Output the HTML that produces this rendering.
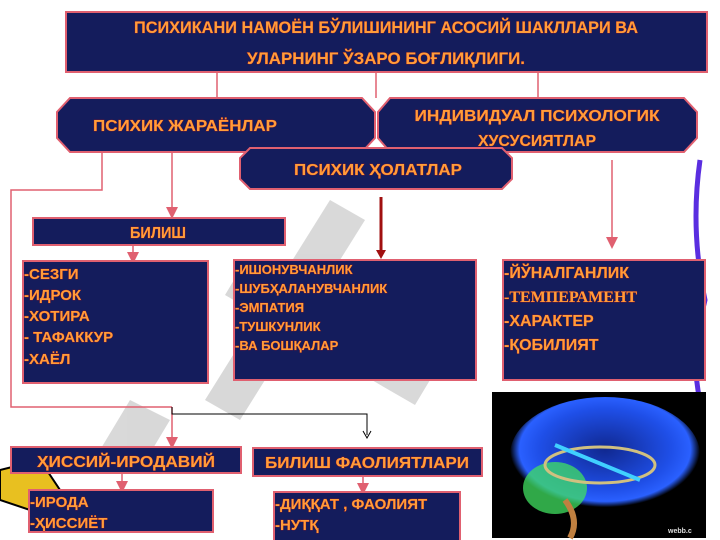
<!DOCTYPE html>
<html><head><meta charset="utf-8"><style>
html,body{margin:0;padding:0;background:#fff}
svg{display:block}
text{font-family:"Liberation Sans Narrow","Liberation Sans",sans-serif;font-weight:bold;fill:#ff9d3a;stroke:#b01818;stroke-width:0.6;paint-order:stroke}
.b{fill:#141c5c;stroke:#e06070;stroke-width:2}
.l{stroke:#e06070;stroke-width:1.5;fill:none}
</style></head><body>
<svg width="720" height="540" viewBox="0 0 720 540" xmlns="http://www.w3.org/2000/svg">
<defs>
<marker id="ar" markerWidth="8" markerHeight="8" refX="4" refY="4" orient="auto"><path d="M0,0 L8,4 L0,8 z" fill="#e06070"/></marker>
<radialGradient id="br" cx="0.5" cy="0.45" r="0.5"><stop offset="0" stop-color="#102890"/><stop offset="0.7" stop-color="#1f4fe8"/><stop offset="0.9" stop-color="#2a60ff"/><stop offset="1" stop-color="#000"/></radialGradient>
</defs>
<g fill="#cfcfcf" opacity="0.8">
<polygon points="330,200 365,220 240,420 205,400"/>
<polygon points="240,270 430,380 415,405 225,295"/>
<polygon points="130,400 170,420 140,470 100,450"/>
</g>
<path d="M700,160 Q690,230 705,300 Q690,360 700,400" stroke="#5a2ee0" stroke-width="5" fill="none"/>
<polygon points="0,470 40,460 60,490 30,510 0,500" fill="#e8c020" stroke="#000" stroke-width="2"/>
<line class="l" x1="217" y1="72" x2="217" y2="98"/>
<line class="l" x1="376" y1="72" x2="376" y2="98"/>
<line class="l" x1="538" y1="72" x2="538" y2="98"/>
<polyline class="l" points="102,152 102,190 11,190 11,407 172,407"/>
<line class="l" x1="172" y1="152" x2="172" y2="213" marker-end="url(#ar)"/>
<line class="l" x1="133" y1="245" x2="133" y2="258" marker-end="url(#ar)" stroke-width="3"/>
<line class="l" x1="612" y1="160" x2="612" y2="243" marker-end="url(#ar)"/>
<line x1="381" y1="197" x2="381" y2="250" stroke="#a01010" stroke-width="3"/>
<path d="M376,250 L386,250 L381,259 z" fill="#a01010"/>
<line class="l" x1="172" y1="407" x2="172" y2="443" marker-end="url(#ar)"/>
<polyline points="172,407 172,414 367,414 367,435" stroke="#000" stroke-width="1" fill="none"/>
<polyline points="363,431 367,438 371,431" stroke="#000" stroke-width="1" fill="none"/>
<line class="l" x1="122" y1="474" x2="122" y2="487" stroke-width="3" marker-end="url(#ar)"/>
<line class="l" x1="363" y1="476" x2="363" y2="489" stroke-width="3" marker-end="url(#ar)"/>
<rect class="b" x="66" y="12" width="641" height="60"/>
<text x="386" y="33" font-size="17" text-anchor="middle" textLength="504" lengthAdjust="spacingAndGlyphs">ПСИХИКАНИ НАМОЁН БЎЛИШИНИНГ АСОСИЙ ШАКЛЛАРИ ВА</text>
<text x="386" y="64" font-size="17" text-anchor="middle" textLength="278" lengthAdjust="spacingAndGlyphs">УЛАРНИНГ ЎЗАРО БОҒЛИҚЛИГИ.</text>
<polygon class="b" points="70,98 362,98 375,112 375,138 362,152 70,152 57,138 57,112"/>
<text x="185" y="131" font-size="16" text-anchor="middle" textLength="184" lengthAdjust="spacingAndGlyphs">ПСИХИК ЖАРАЁНЛАР</text>
<polygon class="b" points="390,98 684,98 697,112 697,138 684,152 390,152 378,138 378,112"/>
<text x="537" y="121" font-size="16" text-anchor="middle" textLength="245" lengthAdjust="spacingAndGlyphs">ИНДИВИДУАЛ ПСИХОЛОГИК</text>
<text x="537" y="146" font-size="16" text-anchor="middle" textLength="118" lengthAdjust="spacingAndGlyphs">ХУСУСИЯТЛАР</text>
<polygon class="b" points="250,148 502,148 512,158 512,179 502,189 250,189 240,179 240,158"/>
<text x="378" y="175" font-size="16" text-anchor="middle" textLength="168" lengthAdjust="spacingAndGlyphs">ПСИХИК ҲОЛАТЛАР</text>
<rect class="b" x="33" y="218" width="252" height="27"/>
<text x="158" y="238" font-size="16" text-anchor="middle" textLength="56" lengthAdjust="spacingAndGlyphs">БИЛИШ</text>
<rect class="b" x="23" y="261" width="185" height="122"/>
<g font-size="15"><text x="24" y="279">-СЕЗГИ</text><text x="24" y="300">-ИДРОК</text><text x="24" y="321">-ХОТИРА</text><text x="24" y="342">- ТАФАККУР</text><text x="24" y="364">-ХАЁЛ</text></g>
<rect class="b" x="234" y="260" width="242" height="120"/>
<g font-size="13"><text x="235" y="274">-ИШОНУВЧАНЛИК</text><text x="235" y="293">-ШУБҲАЛАНУВЧАНЛИК</text><text x="235" y="312">-ЭМПАТИЯ</text><text x="235" y="331">-ТУШКУНЛИК</text><text x="235" y="350">-ВА БОШҚАЛАР</text></g>
<rect class="b" x="503" y="260" width="202" height="120"/>
<g font-size="16"><text x="504" y="278">-ЙЎНАЛГАНЛИК</text><text x="504" y="302" style="font-family:'Liberation Serif',serif">-ТЕМПЕРАМЕНТ</text><text x="504" y="326">-ХАРАКТЕР</text><text x="504" y="350">-ҚОБИЛИЯТ</text></g>
<rect x="492" y="392" width="214" height="146" fill="#000"/>
<ellipse cx="605" cy="455" rx="95" ry="58" fill="url(#br)"/>
<ellipse cx="555" cy="488" rx="32" ry="26" fill="#40e060" opacity="0.75"/>
<ellipse cx="600" cy="465" rx="55" ry="18" fill="none" stroke="#d0c080" stroke-width="3"/>
<line x1="555" y1="445" x2="640" y2="480" stroke="#40d0ff" stroke-width="4"/>
<path d="M565,500 Q580,520 570,538" stroke="#c08040" stroke-width="6" fill="none"/>
<text x="668" y="533" font-size="7" style="fill:#ddd;stroke:none">webb.c</text>
<rect class="b" x="11" y="447" width="230" height="26"/>
<text x="126" y="467" font-size="16" text-anchor="middle" textLength="178" lengthAdjust="spacingAndGlyphs">ҲИССИЙ-ИРОДАВИЙ</text>
<rect class="b" x="253" y="448" width="229" height="28"/>
<text x="367" y="468" font-size="16" text-anchor="middle" textLength="204" lengthAdjust="spacingAndGlyphs">БИЛИШ ФАОЛИЯТЛАРИ</text>
<rect class="b" x="29" y="490" width="184" height="42"/>
<g font-size="15"><text x="30" y="507">-ИРОДА</text><text x="30" y="528">-ҲИССИЁТ</text></g>
<rect class="b" x="274" y="492" width="186" height="50"/>
<g font-size="15"><text x="275" y="509">-ДИҚҚАТ , ФАОЛИЯТ</text><text x="275" y="530">-НУТҚ</text></g>
</svg>
</body></html>
